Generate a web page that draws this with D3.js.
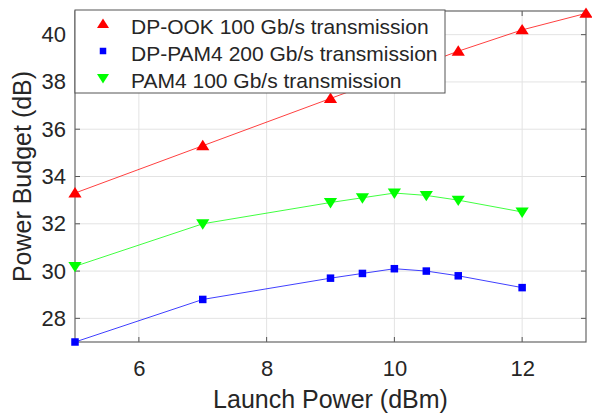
<!DOCTYPE html>
<html><head><meta charset="utf-8">
<script src="https://cdn.jsdelivr.net/npm/d3@7"></script>
<style>body{margin:0;background:#fff}svg{display:block}text{font-family:"Liberation Sans",Arial,sans-serif;fill:#262626}</style>
</head><body><svg id="c" width="592" height="413"></svg>
<script>
const ookX = [5, 7, 9, 11, 12, 13];
const ookY = [33.3, 35.3, 37.3, 39.3, 40.2, 40.9];
const pam4dpX = [5, 7, 9, 9.5, 10, 10.5, 11, 12];
const pam4dpY = [27.0, 28.8, 29.7, 29.9, 30.1, 30.0, 29.8, 29.3];
const pam4X = [5, 7, 9, 9.5, 10, 10.5, 11, 12];
const pam4Y = [30.2, 32.0, 32.9, 33.1, 33.3, 33.2, 33.0, 32.5];
const xTicks = [6, 8, 10, 12];
const yTicks = [28, 30, 32, 34, 36, 38, 40];
const seriesNames = ["DP-OOK 100 Gb/s transmission", "DP-PAM4 200 Gb/s transmission", "PAM4 100 Gb/s transmission"];
const xLabel = "Launch Power (dBm)";
const yLabel = "Power Budget (dB)";

const series = [
  {name: seriesNames[0], xs: ookX, ys: ookY, color: "#ff0000", sym: "up"},
  {name: seriesNames[1], xs: pam4dpX, ys: pam4dpY, color: "#0000ff", sym: "sq"},
  {name: seriesNames[2], xs: pam4X, ys: pam4Y, color: "#00ff00", sym: "down"}
];

const L = 75, R = 586, T = 11, B = 342;
const svg = d3.select("#c");
const x = d3.scaleLinear().domain([5, 13]).range([L, R]);
const y = d3.scaleLinear().domain([27, 41]).range([B, T]);

// grid
const g = svg.append("g");
g.selectAll(".gx").data(xTicks).enter().append("line")
  .attr("x1", d => x(d)).attr("x2", d => x(d)).attr("y1", T).attr("y2", B)
  .attr("stroke", "#e3e3e3").attr("stroke-width", 1);
g.selectAll(".gy").data(yTicks).enter().append("line")
  .attr("y1", d => y(d)).attr("y2", d => y(d)).attr("x1", L).attr("x2", R)
  .attr("stroke", "#e3e3e3").attr("stroke-width", 1);

// axes
const tickLen = 5;
const xAxis = d3.axisBottom(x).tickValues(xTicks).tickSize(0).tickPadding(18).tickFormat(d3.format("d"));
const yAxis = d3.axisLeft(y).tickValues(yTicks).tickSize(0).tickPadding(9).tickFormat(d3.format("d"));
const ax = svg.append("g").attr("transform", `translate(0,${B})`).call(xAxis);
const ay = svg.append("g").attr("transform", `translate(${L},0)`).call(yAxis);
[ax, ay].forEach(a => { a.select(".domain").remove(); a.selectAll("text").style("font-size", "22px").attr("fill", "#262626"); });

// inward ticks on all sides
const tk = svg.append("g").attr("stroke", "#555").attr("stroke-width", 1);
xTicks.forEach(d => {
  tk.append("line").attr("x1", x(d)).attr("x2", x(d)).attr("y1", B).attr("y2", B - tickLen);
  tk.append("line").attr("x1", x(d)).attr("x2", x(d)).attr("y1", T).attr("y2", T + tickLen);
});
yTicks.forEach(d => {
  tk.append("line").attr("y1", y(d)).attr("y2", y(d)).attr("x1", L).attr("x2", L + tickLen);
  tk.append("line").attr("y1", y(d)).attr("y2", y(d)).attr("x1", R).attr("x2", R - tickLen);
});
svg.append("rect").attr("x", L).attr("y", T).attr("width", R - L).attr("height", B - T)
  .attr("fill", "none").attr("stroke", "#666").attr("stroke-width", 1.2);

// labels
svg.append("text").attr("x", (L + R) / 2).attr("y", 408).attr("text-anchor", "middle")
  .style("font-size", "25px").text(xLabel);
svg.append("text").attr("transform", `translate(31,${(T + B) / 2}) rotate(-90)`).attr("text-anchor", "middle")
  .style("font-size", "25px").text(yLabel);

function marker(sel, sym, color, s) {
  if (sym === "sq") {
    sel.append("rect").attr("x", -s * 0.5).attr("y", -s * 0.5).attr("width", s).attr("height", s).attr("fill", color);
  } else {
    const h = s * 0.9, w = s * 0.6;
    const pts = sym === "up" ? `0,${-h*0.6} ${w},${h*0.45} ${-w},${h*0.45}` : `0,${h*0.6} ${w},${-h*0.45} ${-w},${-h*0.45}`;
    sel.append("polygon").attr("points", pts).attr("fill", color);
  }
}

const line = d3.line().x(d => x(d[0])).y(d => y(d[1]));
const clipG = svg.append("g");
series.forEach(s => {
  const pts = s.xs.map((v, i) => [v, s.ys[i]]);
  clipG.append("path").datum(pts).attr("d", line).attr("fill", "none")
    .attr("stroke", s.color).attr("stroke-width", 1).attr("opacity", 0.75);
  pts.forEach(p => {
    const m = clipG.append("g").attr("transform", `translate(${x(p[0])},${y(p[1])})`);
    marker(m, s.sym, s.color, s.sym === "sq" ? 7.5 : 11);
  });
});

// legend
const lg = svg.append("g");
lg.append("rect").attr("x", L).attr("y", 10).attr("width", 370).attr("height", 83)
  .attr("fill", "#fff").attr("stroke", "#555").attr("stroke-width", 1);
series.forEach((s, i) => {
  const cy = 26 + i * 27;
  const m = lg.append("g").attr("transform", `translate(103,${cy - 2})`);
  marker(m, s.sym, s.color, s.sym === "sq" ? 6.5 : 10);
  lg.append("text").attr("x", 131).attr("y", cy + 7.5).style("font-size", "21px").text(s.name);
});
</script></body></html>
